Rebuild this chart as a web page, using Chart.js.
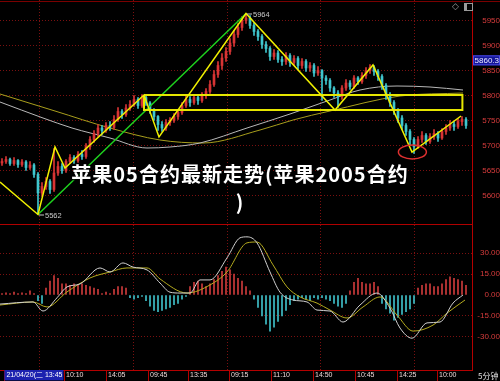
<!DOCTYPE html>
<html lang="zh">

<head>
    <meta charset="UTF-8">
    <meta name="viewport" content="width=device-width, initial-scale=1.0">
    <script src="https://cdn.jsdelivr.net/npm/chart.js"></script>
    <title>苹果05合约最新走势</title>
    <style>
        body { margin: 0; background: #000; }
        #tela { position: relative; width: 500px; height: 381px; background: #000; overflow: hidden; }
        #grafico-k { position: absolute; left: 0; top: 0; }
        #grafico-macd { position: absolute; left: 0; top: 225px; }
        .linha-topo { position: absolute; left: 0; top: 1px; width: 500px; height: 1px; background: #7a0000; }
        .linha-meio { position: absolute; left: 0; top: 224px; width: 473px; height: 1px; background: #b00000; }
        .titulo {
            position: absolute; left: 40px; top: 160px; width: 400px; text-align: center;
            color: #fff; font-family: "Noto Sans CJK SC", sans-serif; font-weight: bold; font-size: 20px;
            letter-spacing: 1px; line-height: 28px;
            text-shadow: 0 0 2px #000, 0 0 3px #000, 1px 1px 2px #000;
        }
        .periodo { position: absolute; left: 478px; top: 370px; color: #e0e0e0; font: 8px "Noto Sans CJK SC"; }
        .icone-d { position: absolute; left: 452px; top: 1px; color: #9a9a9a; font: 9px "DejaVu Sans"; }
        .icone-q { position: absolute; left: 464px; top: 3px; width: 5px; height: 6px; border: 1px solid #9a9a9a; border-left-width: 3px; }
    </style>
</head>

<body>
    <div id="tela">
        <canvas id="grafico-k" width="500" height="225"></canvas>
        <canvas id="grafico-macd" width="500" height="156"></canvas>
        <div class="linha-topo"></div>
        <div class="linha-meio"></div>
        <span class="icone-d">◇</span>
        <div class="icone-q"></div>
        <div class="periodo">5分钟</div>
        <div class="titulo">苹果05合约最新走势(苹果2005合约<br>)</div>
    </div>
</body>

</html>

<script>
    // dados (candles de 5 minutos, indice = posicao do candle)
    const aberturaInicial = 5665;
    const fechamentos = [
        5668, 5672, 5664, 5670, 5662, 5667, 5656, 5661, 5642, 5605,
        5618, 5628, 5612, 5645, 5658, 5650, 5668, 5676, 5670, 5682,
        5678, 5698, 5712, 5724, 5735, 5730, 5740, 5736, 5752, 5768,
        5762, 5775, 5782, 5792, 5780, 5796, 5785, 5770, 5758, 5742,
        5735, 5746, 5750, 5758, 5766, 5780, 5792, 5786, 5796, 5790,
        5800, 5808, 5822, 5842, 5860, 5875, 5888, 5905, 5922, 5936,
        5950, 5955, 5940, 5928, 5918, 5902, 5894, 5878, 5885, 5872,
        5868, 5880, 5866, 5874, 5860, 5868, 5855, 5860, 5845, 5850,
        5835, 5830, 5815, 5805, 5798, 5815, 5825, 5818, 5835, 5828,
        5840, 5850, 5856, 5848, 5838, 5820, 5800, 5786, 5770, 5755,
        5740, 5728, 5712, 5698, 5712, 5720, 5708, 5718, 5724, 5715,
        5728, 5735, 5742, 5738, 5748, 5752, 5740
    ];
    const maximas = [
        5674, 5678, 5675, 5676, 5672, 5672, 5670, 5668, 5664, 5646,
        5626, 5636, 5632, 5694, 5668, 5664, 5672, 5682, 5680, 5688,
        5690, 5704, 5718, 5730, 5742, 5740, 5746, 5748, 5760, 5776,
        5772, 5782, 5790, 5800, 5796, 5802, 5800, 5788, 5774, 5760,
        5748, 5752, 5756, 5764, 5772, 5786, 5800, 5798, 5802, 5800,
        5806, 5814, 5830, 5850, 5868, 5884, 5896, 5914, 5930, 5944,
        5958, 5964, 5960, 5946, 5932, 5922, 5908, 5898, 5892, 5890,
        5878, 5886, 5884, 5880, 5878, 5874, 5872, 5866, 5864, 5858,
        5852, 5840, 5834, 5818, 5810, 5820, 5832, 5830, 5840, 5838,
        5846, 5856, 5862, 5860, 5852, 5842, 5824, 5806, 5790, 5774,
        5760, 5744, 5732, 5716, 5718, 5728, 5724, 5724, 5732, 5728,
        5734, 5742, 5750, 5748, 5754, 5758, 5756
    ];
    const minimas = [
        5660, 5664, 5660, 5660, 5656, 5658, 5650, 5652, 5636, 5562,
        5598, 5612, 5604, 5608, 5640, 5644, 5646, 5664, 5664, 5666,
        5672, 5674, 5692, 5706, 5718, 5722, 5726, 5730, 5732, 5748,
        5754, 5758, 5770, 5778, 5774, 5776, 5780, 5764, 5750, 5730,
        5728, 5730, 5740, 5746, 5752, 5762, 5776, 5778, 5782, 5782,
        5786, 5794, 5804, 5818, 5836, 5852, 5868, 5882, 5898, 5916,
        5930, 5944, 5934, 5920, 5910, 5894, 5886, 5870, 5872, 5866,
        5860, 5862, 5858, 5860, 5852, 5854, 5848, 5848, 5838, 5840,
        5790, 5822, 5808, 5796, 5776, 5792, 5810, 5812, 5814, 5822,
        5824, 5834, 5844, 5840, 5830, 5812, 5792, 5778, 5762, 5746,
        5732, 5720, 5700, 5684, 5694, 5706, 5702, 5704, 5712, 5708,
        5712, 5722, 5730, 5730, 5734, 5740, 5734
    ];
    // histograma MACD (um valor por candle)
    const histMacd = [
        1, 1.5, 1, 2, 1, 1.5, 1, 3, 1, -4,
        -6, 5, 10, 14, 12, 8, 8, 7, 8, 7,
        8, 7, 6, 5, 4, 1, 2, 1, 4, 6,
        6, 5, -2, -3, -2, -1, -4, -8, -11, -12,
        -11, -10, -9, -7, -6, -3, -1, 6, 9, 10,
        8, 6, 8, 11, 14, 17, 20, 18, 15, 12,
        10, 6, 3, -3, -9, -15, -21, -26, -23, -19,
        -15, -11, -7, -4, -3, -2, -3, -4, -2, -3,
        -2, -3, -4, -6, -8, -9, -6, 3, 9, 12,
        9, 8, 8, 9, 6, -6, -10, -13, -18, -16,
        -14, -12, -10, -6, 5, 7, 8, 8, 6, 6,
        8, 11, 13, 12, 11, 10, 7
    ];
    // DIF (linha cinza) e DEA (linha amarela) - [indice, valor]
    const linhaDif = [
        [-0.5, -6.5], [7.75, -5], [10.25, -11.5], [13.75, -2], [16.25, 5.8], [19.5, 7.9],
        [24.5, 19.4], [27, 16.5], [30.25, 23], [32.75, 20], [36.25, 18], [39.5, 8.6],
        [42, 2], [44.5, 1.4], [47, 1.4], [49.5, 10.8], [52, 10.8], [56.25, 26.6],
        [59.5, 41], [61.25, 41.7], [63.75, 37.4], [67, 16.5], [69.5, 2], [72.75, -3.6],
        [76.25, -5], [78.75, -10.8], [82, -11.5], [85.25, -19.4], [89.5, -7.2], [93.75, 1.4],
        [97, -9.4], [99.5, -23.7], [102.5, -31], [106.25, -20], [109.5, -19.4], [112.75, -5.8],
        [115.25, 0]
    ];
    const linhaDea = [
        [-0.5, -7.2], [7.75, -5], [11.25, -8.6], [16.25, 2.2], [22, 12.2], [27, 16.5],
        [31.25, 19.4], [36.25, 19.4], [39.5, 11.5], [46.25, 1.4], [52, 7.2], [56.25, 16.5],
        [61.25, 37.4], [63.75, 38], [67.75, 21.6], [71.25, 5.8], [74.5, -1.4], [78.75, -5.8],
        [82, -10.8], [86.25, -16.5], [90.25, -8.6], [94.5, -1.4], [98.75, -14.4], [102.75, -25.9],
        [107.75, -21.6], [111.25, -13], [115.75, -3.6]
    ];
    // medias moveis do grafico de preco - [indice, preco]
    const mediaCinza = [
        [-0.5, 5787], [10.25, 5755], [17.5, 5735], [27, 5715], [36.25, 5695], [42, 5697],
        [49.5, 5705], [61.25, 5735], [72, 5763], [82, 5791], [89.5, 5811], [98.75, 5819],
        [107, 5817], [115.25, 5811]
    ];
    const mediaOliva = [
        [-0.5, 5803], [13.25, 5769], [27, 5735], [39.5, 5711], [50.25, 5705], [64.5, 5731],
        [72.75, 5751], [82, 5769], [99.5, 5799], [115.25, 5805]
    ];
    // desenhos feitos a mao no grafico
    const zigueZague = [
        [-0.5, 5627], [9, 5562], [13.25, 5697], [15.75, 5655], [35.5, 5801], [39.25, 5717],
        [61, 5964], [83.25, 5771], [92.75, 5861], [102.5, 5687], [114.75, 5759]
    ];
    const linhaVerde = [[9, 5562], [61, 5964]];
    const caixaAmarela = [[35.5, 5801], [115.1, 5801], [115.1, 5771], [35.5, 5771], [35.5, 5801]];
    const circuloFundo = [102.6, 5687];
    const maxAnotada = [61, 5964];
    const minAnotada = [9, 5562];
    const precoAtual = 5860.3;

    const ticksPreco = [5600, 5650, 5700, 5750, 5800, 5850, 5900, 5950];
    const ticksMacd = [-30, -15, 0, 15, 30];
    const gradeX = [9.25, 32.75, 56.25, 79.5, 103];
    const posTempo = [0.6, 15.5, 26, 36.5, 46.5, 56.75, 67.25, 77.75, 88.25, 98.75, 108.75];
    const rotulosTempo = ['21/04/20(二 13:45', '10:10', '14:05', '09:45', '13:35', '09:15',
        '11:10', '14:50', '10:45', '14:25', '10:00'];

    const VERMELHO = '#d83434';
    const CIANO = '#3fc6ce';
    const GRADE = '#7a1010';
    const EIXO = '#b40000';
    const FONTE = 'Liberation Sans, Noto Sans CJK SC, sans-serif';

    function pontos(lista) {
        return lista.map(function (p) { return { x: p[0], y: p[1] }; });
    }

    function abertura(i) {
        return i === 0 ? aberturaInicial : fechamentos[i - 1];
    }

    function corVela(ctx) {
        const i = ctx.dataIndex;
        if (i === undefined) return VERMELHO;
        return fechamentos[i] >= abertura(i) ? VERMELHO : CIANO;
    }

    function zerarPadding(s) {
        s.paddingTop = 0; s.paddingBottom = 0; s.paddingLeft = 0; s.paddingRight = 0;
    }

    function fixarTicks(valores) {
        return function (s) { s.ticks = valores.map(function (v) { return { value: v }; }); };
    }

    // textos e marcas extras sobre o grafico de preco
    const anotacoes = {
        id: 'anotacoes',
        afterDatasetsDraw(chart) {
            const ctx = chart.ctx;
            const x = chart.scales.x, y = chart.scales.y;
            ctx.save();
            // circulo vermelho no fundo
            ctx.strokeStyle = '#e03030';
            ctx.lineWidth = 1.5;
            ctx.beginPath();
            ctx.ellipse(x.getPixelForValue(circuloFundo[0]), y.getPixelForValue(circuloFundo[1]), 14, 7, 0, 0, Math.PI * 2);
            ctx.stroke();
            // rotulos de maxima e minima
            ctx.fillStyle = '#c8c8c8';
            ctx.strokeStyle = '#c8c8c8';
            ctx.lineWidth = 1;
            ctx.font = '7.5px ' + FONTE;
            ctx.textBaseline = 'middle';
            [maxAnotada, minAnotada].forEach(function (m) {
                const px = x.getPixelForValue(m[0]);
                const py = y.getPixelForValue(m[1]);
                ctx.beginPath();
                ctx.moveTo(px + 1, py + 0.5);
                ctx.lineTo(px + 6, py + 0.5);
                ctx.stroke();
                ctx.fillText(String(m[1]), px + 7, py + 1);
            });
            ctx.restore();
        },
        afterDraw(chart) {
            const ctx = chart.ctx;
            const y = chart.scales.y;
            const py = y.getPixelForValue(precoAtual);
            ctx.save();
            ctx.fillStyle = '#14169a';
            ctx.fillRect(473, py - 10, 27, 10);
            ctx.strokeStyle = '#4a4ae0';
            ctx.strokeRect(473.5, py - 9.5, 26, 9);
            ctx.fillStyle = '#e8e8ff';
            ctx.font = '8px ' + FONTE;
            ctx.textBaseline = 'middle';
            ctx.textAlign = 'right';
            ctx.fillText(precoAtual.toFixed(1), 499, py - 4.5);
            ctx.restore();
        }
    };

    function plotarPreco() {
        const dadosVelas = fechamentos.map(function (c, i) { return { x: i, y: [abertura(i), c] }; });
        const dadosPavios = fechamentos.map(function (c, i) { return { x: i, y: [minimas[i], maximas[i]] }; });

        new Chart(document.getElementById('grafico-k'), {
            type: 'bar',
            data: {
                datasets: [
                    { type: 'line', data: pontos(zigueZague), borderColor: '#f0f000', borderWidth: 1.5, pointRadius: 0, order: 0 },
                    { type: 'line', data: pontos(caixaAmarela), borderColor: '#e6e600', borderWidth: 2, pointRadius: 0, order: 0 },
                    { type: 'line', data: pontos(linhaVerde), borderColor: '#1ed21e', borderWidth: 1.5, pointRadius: 0, order: 0 },
                    { data: dadosVelas, backgroundColor: corVela, barThickness: 2, grouped: false, borderWidth: 0, order: 1 },
                    { data: dadosPavios, backgroundColor: corVela, barThickness: 1, grouped: false, borderWidth: 0, order: 2 },
                    { type: 'line', data: pontos(mediaCinza), borderColor: '#b8b8b8', borderWidth: 1, pointRadius: 0, cubicInterpolationMode: 'monotone', order: 3 },
                    { type: 'line', data: pontos(mediaOliva), borderColor: '#a89e1c', borderWidth: 1, pointRadius: 0, cubicInterpolationMode: 'monotone', order: 3 }
                ]
            },
            options: {
                responsive: false,
                animation: false,
                devicePixelRatio: 1,
                layout: { padding: 0 },
                plugins: { legend: { display: false }, tooltip: { enabled: false } },
                scales: {
                    x: {
                        type: 'linear', min: -0.5, max: 117.5, offset: false,
                        ticks: { display: false },
                        grid: { color: GRADE, offset: false, drawTicks: false },
                        border: { display: false, dash: [1, 2] },
                        afterBuildTicks: fixarTicks(gradeX),
                        afterFit: function (s) { s.height = 0; zerarPadding(s); }
                    },
                    y: {
                        position: 'right', min: 5541, max: 5991,
                        ticks: {
                            color: '#d83c3c', font: { family: FONTE, size: 8 }, padding: 8, crossAlign: 'far',
                            callback: function (v) { return String(v); }
                        },
                        grid: { color: GRADE, drawTicks: false },
                        border: { color: EIXO, dash: [1, 2] },
                        afterBuildTicks: fixarTicks(ticksPreco),
                        afterFit: function (s) { s.width = 28; zerarPadding(s); }
                    }
                }
            },
            plugins: [anotacoes]
        });
    }

    function plotarMacd() {
        const dadosHist = histMacd.map(function (v, i) { return { x: i, y: v }; });

        new Chart(document.getElementById('grafico-macd'), {
            type: 'bar',
            data: {
                datasets: [
                    { type: 'line', data: pontos(linhaDif), borderColor: '#d0d0d0', borderWidth: 1, pointRadius: 0, cubicInterpolationMode: 'monotone', order: 0 },
                    { type: 'line', data: pontos(linhaDea), borderColor: '#b4aa1e', borderWidth: 1, pointRadius: 0, cubicInterpolationMode: 'monotone', order: 0 },
                    {
                        data: dadosHist, barThickness: 1, borderWidth: 0, order: 1,
                        backgroundColor: function (ctx) { return ctx.raw && ctx.raw.y < 0 ? '#3fbfc8' : '#cc3a3a'; }
                    }
                ]
            },
            options: {
                responsive: false,
                animation: false,
                devicePixelRatio: 1,
                layout: { padding: 0 },
                plugins: { legend: { display: false }, tooltip: { enabled: false } },
                scales: {
                    x: {
                        type: 'linear', min: -0.5, max: 117.5, offset: false, position: 'bottom',
                        ticks: {
                            autoSkip: false, maxRotation: 0, align: 'start', labelOffset: 2, padding: -10,
                            font: { family: FONTE, size: 7 },
                            color: function (ctx) { return ctx.index === 0 ? '#ffffff' : '#ecd6d6'; },
                            showLabelBackdrop: function (ctx) { return ctx.index === 0; },
                            backdropColor: '#1c22b0',
                            backdropPadding: { top: 1, bottom: 1, left: 2, right: 1 },
                            callback: function (v, i) { return rotulosTempo[i]; }
                        },
                        grid: { drawOnChartArea: false, drawTicks: true, tickLength: 11, tickColor: EIXO, offset: false },
                        border: { color: EIXO },
                        afterBuildTicks: fixarTicks(posTempo),
                        afterFit: function (s) { s.height = 11; zerarPadding(s); }
                    },
                    xg: {
                        type: 'linear', axis: 'x', min: -0.5, max: 117.5, offset: false, position: 'top',
                        ticks: { display: false },
                        grid: { color: GRADE, drawTicks: false, offset: false },
                        border: { display: false, dash: [1, 2] },
                        afterBuildTicks: fixarTicks(gradeX),
                        afterFit: function (s) { s.height = 0; zerarPadding(s); }
                    },
                    y: {
                        position: 'right', min: -53.8, max: 50.2,
                        ticks: {
                            color: '#d83c3c', font: { family: FONTE, size: 8 }, padding: 2, crossAlign: 'far',
                            callback: function (v) { return Number(v).toFixed(2); }
                        },
                        grid: {
                            drawTicks: false,
                            color: function (ctx) { return ctx.tick && ctx.tick.value === 0 ? 'rgba(0,0,0,0)' : GRADE; }
                        },
                        border: { color: EIXO, dash: [1, 2] },
                        afterBuildTicks: fixarTicks(ticksMacd),
                        afterFit: function (s) { s.width = 28; zerarPadding(s); }
                    }
                }
            }
        });
    }

    plotarPreco();
    plotarMacd();
</script>
